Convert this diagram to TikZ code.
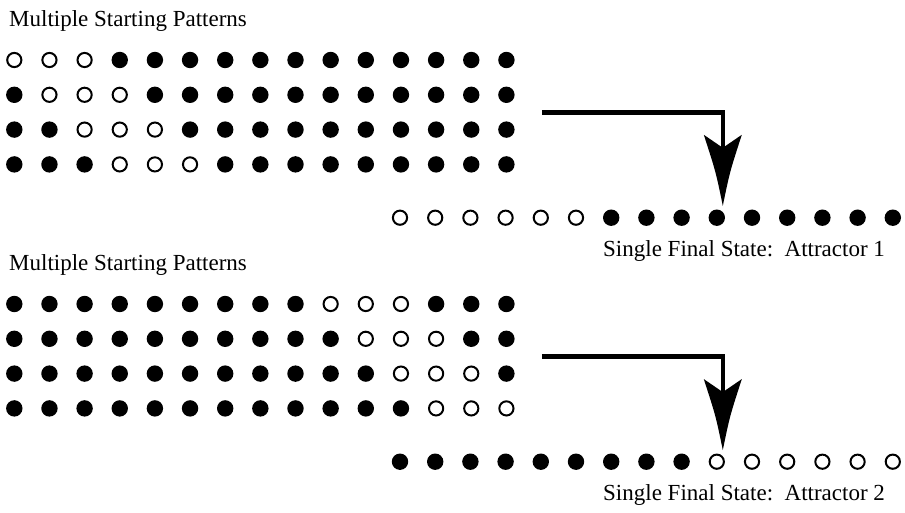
\documentclass[tikz,border=0pt]{standalone}
\usepackage{fontspec}
\setmainfont{Liberation Serif}
\begin{document}
\begin{tikzpicture}[x=1pt,y=-1pt,
  on/.style={circle,fill=black,inner sep=0pt,minimum size=16.4pt},
  off/.style={circle,draw=black,line width=2pt,fill=white,inner sep=0pt,minimum size=14.2pt},
  caption/.style={anchor=base west,inner sep=0pt,font=\fontsize{23}{27}\selectfont},
  flow/.style={line width=4.3pt},
  bighead/.pic={\fill (0,0) .. controls (-7,-34) .. (-19,-71) -- (0,-58) -- (19,-71) .. controls (7,-34) .. (0,0) -- cycle;}]
\useasboundingbox (0,0) rectangle (905,513);

% ---------- first block: attractor 1 ----------
\node[caption] (titleA) at (9,26.7) {Multiple Starting Patterns};
\foreach \r in {0,...,3}{
  \foreach \c in {0,...,14}{
    \ifnum\c<\r \def\st{on}\else\ifnum\c>\numexpr\r+2\relax \def\st{on}\else\def\st{off}\fi\fi
    \node[\st] (a\r-\c) at ({14.3+35.15*\c},{60+34.8*\r}) {};
  }
}
\foreach \c in {0,...,14}{
  \ifnum\c<6 \def\st{off}\else\def\st{on}\fi
  \node[\st] (fa-\c) at ({400+35.2*\c},217.7) {};
}
\node[caption] (labelA) at (603,256.7) {Single Final State:\ \ Attractor 1};
\coordinate (startA) at ([xshift=27pt]a1-14.east |- 0,112.5);
\coordinate (tipA) at ([xshift=6pt,yshift=3.5pt]fa-9.north);
\draw[flow] (startA) -| ([yshift=54pt]tipA);
\pic at (tipA) {bighead};

% ---------- second block: attractor 2 ----------
\node[caption] (titleB) at (9,270.7) {Multiple Starting Patterns};
\foreach \r in {0,...,3}{
  \foreach \c in {0,...,14}{
    \ifnum\c<\numexpr\r+9\relax \def\st{on}\else\ifnum\c>\numexpr\r+11\relax \def\st{on}\else\def\st{off}\fi\fi
    \node[\st] (b\r-\c) at ({14.3+35.15*\c},{304+34.8*\r}) {};
  }
}
\foreach \c in {0,...,14}{
  \ifnum\c<9 \def\st{on}\else\def\st{off}\fi
  \node[\st] (fb-\c) at ({400+35.2*\c},461.7) {};
}
\node[caption] (labelB) at (603,500.7) {Single Final State:\ \ Attractor 2};
\coordinate (startB) at ([xshift=27pt]b1-14.east |- 0,356.5);
\coordinate (tipB) at ([xshift=6pt,yshift=3.5pt]fb-9.north);
\draw[flow] (startB) -| ([yshift=54pt]tipB);
\pic at (tipB) {bighead};
\end{tikzpicture}
\end{document}
